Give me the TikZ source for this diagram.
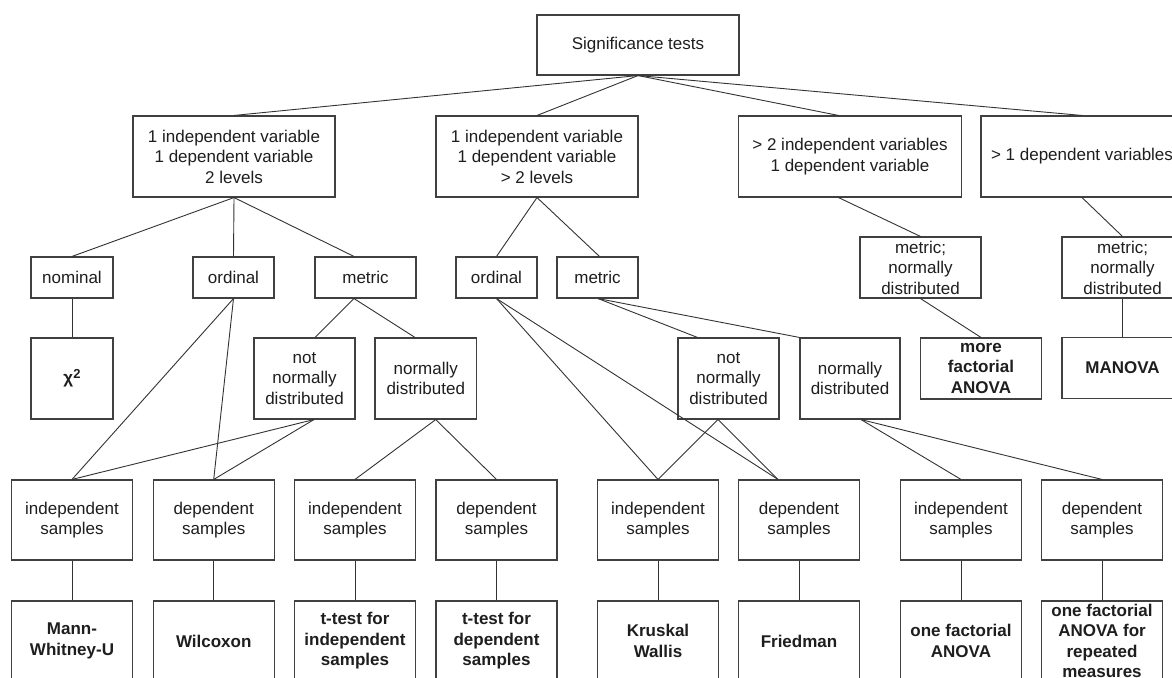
\documentclass[tikz,border=0pt]{standalone}
\usepackage{fontspec}
\setmainfont{Liberation Sans}
\usetikzlibrary{calc}
\definecolor{boxcol}{HTML}{404040}
\definecolor{linecol}{HTML}{333333}
\definecolor{txtcol}{HTML}{1E1E1E}
\begin{document}
\begin{tikzpicture}[x=1pt,y=-1pt,
  box/.style={draw=boxcol, line width=1.1pt, inner sep=0pt, align=center,
    font=\fontsize{17}{20.5}\selectfont, text=txtcol, fill=white},
  res/.style={box, font=\fontsize{17}{20.5}\selectfont\bfseries},
  conn/.style={draw=linecol, line width=0.9pt},
  sbox/.style={box, minimum width=121pt, minimum height=80pt}]
\path[use as bounding box] (0,0) rectangle (1172,677);
\clip (0,0) rectangle (1172,677);
\fill[white] (0,0) rectangle (1172,677);

% level 0
\node[box, minimum width=202pt, minimum height=60pt] (root) at (638,45) {Significance tests};
% level 1
\node[box, minimum width=202pt, minimum height=81pt] (A) at (234,156.5) {1 independent variable\\1 dependent variable\\2 levels};
\node[box, minimum width=202pt, minimum height=81pt] (B) at (537,156.5) {1 independent variable\\1 dependent variable\\> 2 levels};
\node[box, minimum width=222.5pt, minimum height=81pt] (C) at (850,156.5) {> 2 independent variables\\1 dependent variable};
\node[box, minimum width=202pt, minimum height=81pt] (D) at (1082,156.5) {> 1 dependent variables};
% level 2
\node[box, minimum width=82pt, minimum height=41pt] (nom) at (72,277.5) {nominal};
\node[box, minimum width=81pt, minimum height=41pt] (ordA) at (233.5,277.5) {ordinal};
\node[box, minimum width=101pt, minimum height=41pt] (metA) at (365.5,277.5) {metric};
\node[box, minimum width=81pt, minimum height=41pt] (ordB) at (496.5,277.5) {ordinal};
\node[box, minimum width=81pt, minimum height=41pt] (metB) at (597.5,277.5) {metric};
\node[box, minimum width=121pt, minimum height=61pt] (C2) at (920.5,267.5) {metric;\\normally\\distributed};
\node[box, minimum width=121pt, minimum height=61pt] (D2) at (1122.5,267.5) {metric;\\normally\\distributed};
% level 3
\node[res, minimum width=82pt, minimum height=81pt] (chi) at (72,378.5) {χ\raisebox{0.28em}{\fontsize{13}{13}\selectfont 2}};
\node[box, minimum width=101pt, minimum height=81pt] (nnA) at (304.5,378.5) {not\\normally\\distributed};
\node[box, minimum width=101.5pt, minimum height=81pt] (ndA) at (425.75,378.5) {normally\\distributed};
\node[box, minimum width=101pt, minimum height=81pt] (nnB) at (728.5,378.5) {not\\normally\\distributed};
\node[box, minimum width=100pt, minimum height=81pt] (ndB) at (850,378.5) {normally\\distributed};
\node[res, minimum width=121pt, minimum height=61pt] (mfa) at (981,368.5) {more\\factorial\\ANOVA};
\node[res, minimum width=121pt, minimum height=61pt] (man) at (1122.5,368) {MANOVA};
% level 4 samples
\node[sbox] (is1) at (72,520) {independent\\samples};
\node[sbox] (ds1) at (213.7,520) {dependent\\samples};
\node[sbox] (is2) at (355,520) {independent\\samples};
\node[sbox] (ds2) at (496.5,520) {dependent\\samples};
\node[sbox] (is3) at (658,520) {independent\\samples};
\node[sbox] (ds3) at (799,520) {dependent\\samples};
\node[sbox] (is4) at (961,520) {independent\\samples};
\node[sbox] (ds4) at (1102,520) {dependent\\samples};
% level 5 results
\node[res, minimum width=121pt, minimum height=80pt] (r1) at (72,641) {Mann-\\Whitney-U};
\node[res, minimum width=121pt, minimum height=80pt] (r2) at (213.7,641) {Wilcoxon};
\node[res, minimum width=121pt, minimum height=80pt] (r3) at (355,641) {t-test for\\independent\\samples};
\node[res, minimum width=121pt, minimum height=80pt] (r4) at (496.5,641) {t-test for\\dependent\\samples};
\node[res, minimum width=121pt, minimum height=80pt] (r5) at (658,641) {Kruskal\\Wallis};
\node[res, minimum width=121pt, minimum height=80pt] (r6) at (799,641) {Friedman};
\node[res, minimum width=121pt, minimum height=80pt] (r7) at (961,641) {one factorial\\ANOVA};
\node[res, minimum width=121pt, minimum height=80pt] (r8) at (1102,641) {one factorial\\ANOVA for\\repeated\\measures};

% connectors
\draw[conn] (root.south) -- (A.north);
\draw[conn] (root.south) -- (B.north);
\draw[conn] (root.south) -- ($(C.north)+(-11.5,0)$);
\draw[conn] (root.south) -- (D.north);
\draw[conn] (A.south) -- (nom.north);
\draw[conn] (A.south) -- (ordA.north);
\draw[conn] (A.south) -- ($(metA.north)+(-11.5,0)$);
\draw[conn] (B.south) -- (ordB.north);
\draw[conn] (B.south) -- ($(metB.north)+(2,0)$);
\draw[conn] ($(C.south)+(-11.5,0)$) -- (C2.north);
\draw[conn] (D.south) -- (D2.north);
\draw[conn] (nom.south) -- (chi.north);
\draw[conn] ($(metA.south)+(-11.5,0)$) -- ($(nnA.north)+(10.5,0)$);
\draw[conn] ($(metA.south)+(-11.5,0)$) -- ($(ndA.north)+(-10.75,0)$);
\draw[conn] (ordA.south) -- (is1.north);
\draw[conn] (ordA.south) -- (ds1.north);
\draw[conn] ($(nnA.south)+(9.5,0)$) -- (is1.north);
\draw[conn] ($(nnA.south)+(9.5,0)$) -- (ds1.north);
\draw[conn] ($(ndA.south)+(10,0)$) -- (is2.north);
\draw[conn] ($(ndA.south)+(10,0)$) -- (ds2.north);
\draw[conn] (ordB.south) -- (is3.north);
\draw[conn] (ordB.south) -- ($(ds3.north)+(-21,0)$);
\draw[conn] ($(metB.south)+(0.5,0)$) -- ($(nnB.north)+(-31,0)$);
\draw[conn] ($(metB.south)+(0.5,0)$) -- (ndB.north west);
\draw[conn] ($(nnB.south)+(-10.5,0)$) -- (is3.north);
\draw[conn] ($(nnB.south)+(-10.5,0)$) -- ($(ds3.north)+(-21,0)$);
\draw[conn] ($(ndB.south)+(11,0)$) -- (is4.north);
\draw[conn] ($(ndB.south)+(11,0)$) -- (ds4.north);
\draw[conn] (C2.south) -- (mfa.north);
\draw[conn] (D2.south) -- (man.north);
\draw[conn] (is1.south) -- (r1.north);
\draw[conn] (ds1.south) -- (r2.north);
\draw[conn] (is2.south) -- (r3.north);
\draw[conn] (ds2.south) -- (r4.north);
\draw[conn] (is3.south) -- (r5.north);
\draw[conn] (ds3.south) -- (r6.north);
\draw[conn] (is4.south) -- (r7.north);
\draw[conn] (ds4.south) -- (r8.north);
\end{tikzpicture}
\end{document}
